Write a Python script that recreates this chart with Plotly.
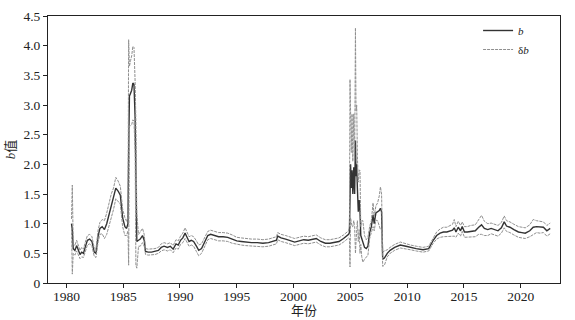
import plotly.graph_objects as go

# time (decimal year), b value, and delta-b half width
years = [
    1980.45, 1980.52, 1980.60, 1980.75, 1980.90, 1981.05, 1981.20, 1981.35, 1981.50, 1981.65,
    1981.85, 1982.05, 1982.25, 1982.45, 1982.60, 1982.80, 1982.95, 1983.15, 1983.35, 1983.55,
    1983.75, 1983.95, 1984.15, 1984.35, 1984.55, 1984.75, 1984.95, 1985.15, 1985.30, 1985.42,
    1985.48, 1985.55, 1985.65, 1985.75, 1985.85, 1985.95, 1986.05, 1986.12, 1986.20, 1986.35,
    1986.50, 1986.70, 1986.85, 1986.97, 1987.20, 1987.50, 1987.80, 1988.10, 1988.35, 1988.60,
    1988.90, 1989.15, 1989.40, 1989.65, 1989.85, 1990.05, 1990.25, 1990.45, 1990.60, 1990.80,
    1991.00, 1991.20, 1991.45, 1991.65, 1991.90, 1992.20, 1992.45, 1992.70, 1993.00, 1993.40,
    1993.80, 1994.20, 1994.60, 1995.00, 1995.40, 1995.80, 1996.30, 1996.80, 1997.30, 1997.80,
    1998.20, 1998.50, 1998.60, 1998.90, 1999.30, 1999.70, 2000.10, 2000.50, 2000.90, 2001.30,
    2001.70, 2002.00, 2002.40, 2002.80, 2003.20, 2003.60, 2004.00, 2004.40, 2004.70, 2004.85,
    2004.92, 2004.97, 2005.02, 2005.08, 2005.15, 2005.22, 2005.30, 2005.38, 2005.45, 2005.50,
    2005.56, 2005.62, 2005.70, 2005.78, 2005.85, 2005.92, 2006.00, 2006.10, 2006.25, 2006.40,
    2006.55, 2006.70, 2006.85, 2007.00, 2007.10, 2007.25, 2007.40, 2007.55, 2007.65, 2007.75,
    2007.85, 2008.00, 2008.25, 2008.50, 2008.90, 2009.40, 2009.90, 2010.30, 2010.80, 2011.40,
    2011.90, 2012.30, 2012.60, 2012.90, 2013.20, 2013.50, 2013.80, 2014.00, 2014.15, 2014.30,
    2014.50, 2014.70, 2014.85, 2015.05, 2015.30, 2015.60, 2016.00, 2016.30, 2016.55, 2016.80,
    2017.10, 2017.40, 2017.70, 2018.00, 2018.30, 2018.55, 2018.75, 2019.05, 2019.40, 2019.80,
    2020.10, 2020.40, 2020.80, 2021.10, 2021.40, 2021.70, 2022.00, 2022.30, 2022.60,
]
b_values = [
    1.00, 0.90, 0.58, 0.55, 0.63, 0.55, 0.48, 0.52, 0.50, 0.60,
    0.72, 0.74, 0.70, 0.52, 0.50, 0.80, 0.92, 0.95, 0.90, 1.00,
    1.15, 1.30, 1.42, 1.60, 1.55, 1.48, 1.10, 0.95, 0.92, 1.00,
    2.20, 3.15, 3.20, 3.25, 3.37, 3.35, 2.80, 1.50, 0.70, 0.72,
    0.74, 0.80, 0.72, 0.53, 0.52, 0.52, 0.53, 0.55, 0.60, 0.62,
    0.60, 0.62, 0.57, 0.66, 0.64, 0.72, 0.76, 0.84, 0.78, 0.70,
    0.72, 0.70, 0.62, 0.55, 0.58, 0.70, 0.80, 0.82, 0.80, 0.78,
    0.78, 0.77, 0.74, 0.71, 0.70, 0.69, 0.68, 0.68, 0.67, 0.68,
    0.70, 0.72, 0.79, 0.76, 0.74, 0.72, 0.69, 0.71, 0.73, 0.72,
    0.74, 0.75, 0.70, 0.67, 0.67, 0.68, 0.70, 0.75, 0.80, 0.82,
    0.85, 1.85, 2.00, 1.60, 1.90, 1.50, 1.95, 1.50, 2.40, 1.80,
    2.00, 1.60, 1.20, 1.40, 1.20, 0.80, 0.75, 0.70, 0.60, 0.58,
    0.62, 0.85, 0.95, 1.15, 1.00, 1.18, 1.20, 1.22, 1.26, 1.20,
    0.40, 0.42, 0.50, 0.55, 0.60, 0.64, 0.62, 0.60, 0.58, 0.56,
    0.58, 0.72, 0.80, 0.84, 0.86, 0.86, 0.88, 0.89, 0.93, 0.86,
    0.94, 0.88, 0.95, 0.86, 0.86, 0.87, 0.88, 0.94, 0.98, 0.92,
    0.90, 0.92, 0.90, 0.88, 0.93, 1.03, 0.96, 0.94, 0.90, 0.86,
    0.85, 0.84, 0.88, 0.94, 0.95, 0.94, 0.94, 0.88, 0.92,
]
delta_b = [
    0.08, 0.75, 0.08, 0.08, 0.09, 0.08, 0.07, 0.08, 0.07, 0.08,
    0.08, 0.08, 0.08, 0.07, 0.07, 0.10, 0.10, 0.12, 0.15, 0.18,
    0.20, 0.20, 0.18, 0.18, 0.17, 0.15, 0.15, 0.15, 0.12, 0.12,
    1.90, 0.50, 0.55, 0.58, 0.62, 0.62, 0.60, 1.20, 0.45, 0.10,
    0.12, 0.12, 0.10, 0.05, 0.05, 0.05, 0.05, 0.05, 0.06, 0.06,
    0.06, 0.06, 0.06, 0.07, 0.07, 0.07, 0.08, 0.09, 0.08, 0.08,
    0.08, 0.08, 0.09, 0.09, 0.08, 0.08, 0.07, 0.07, 0.07, 0.07,
    0.07, 0.07, 0.07, 0.06, 0.06, 0.06, 0.06, 0.06, 0.06, 0.06,
    0.06, 0.06, 0.06, 0.06, 0.06, 0.06, 0.06, 0.06, 0.06, 0.06,
    0.06, 0.06, 0.06, 0.06, 0.06, 0.06, 0.06, 0.06, 0.06, 0.06,
    0.10, 1.58, 0.90, 0.60, 0.95, 0.55, 0.90, 0.55, 1.90, 1.10,
    1.00, 0.55, 0.50, 0.50, 0.70, 0.15, 0.30, 0.35, 0.20, 0.15,
    0.15, 0.10, 0.10, 0.20, 0.12, 0.12, 0.15, 0.25, 0.36, 0.30,
    0.12, 0.12, 0.06, 0.05, 0.05, 0.05, 0.04, 0.04, 0.04, 0.04,
    0.04, 0.05, 0.06, 0.07, 0.08, 0.08, 0.09, 0.10, 0.14, 0.09,
    0.10, 0.09, 0.08, 0.09, 0.09, 0.10, 0.10, 0.12, 0.16, 0.12,
    0.10, 0.09, 0.09, 0.09, 0.09, 0.10, 0.09, 0.09, 0.09, 0.09,
    0.09, 0.09, 0.10, 0.13, 0.10, 0.10, 0.09, 0.09, 0.09,
]

x_ticks = [1980, 1985, 1990, 1995, 2000, 2005, 2010, 2015, 2020]
y_ticks = [0, 0.5, 1.0, 1.5, 2.0, 2.5, 3.0, 3.5, 4.0, 4.5]
y_tick_text = ["0", "0.5", "1.0", "1.5", "2.0", "2.5", "3.0", "3.5", "4.0", "4.5"]

upper = [v + d for v, d in zip(b_values, delta_b)]
lower = [v - d for v, d in zip(b_values, delta_b)]

band_color = "#8f8f8f"
fig = go.Figure()
fig.add_trace(go.Scatter(x=years, y=b_values, mode="lines", name="<i>b</i>",
                         line=dict(color="#333333", width=1.4)))
fig.add_trace(go.Scatter(x=years, y=upper, mode="lines", name="δ<i>b</i>",
                         line=dict(color=band_color, width=1, dash="3px,1px")))
fig.add_trace(go.Scatter(x=years, y=lower, mode="lines", name="δb lower",
                         line=dict(color=band_color, width=1, dash="3px,1px"),
                         showlegend=False))

font_family = "Liberation Serif, Noto Sans CJK SC, serif"
axis_common = dict(showline=True, linecolor="#222222", linewidth=1, mirror=True,
                   ticks="outside", ticklen=4, tickcolor="#222222", showgrid=False,
                   zeroline=False, automargin=False,
                   tickfont=dict(size=13.5, color="#222222", family=font_family))
fig.update_xaxes(range=[1978.38, 2023.46], tickvals=x_ticks, ticklabelstandoff=-3, **axis_common)
fig.update_yaxes(range=[0, 4.5], tickvals=y_ticks, ticktext=y_tick_text, **axis_common,
                 title=dict(text="<i>b</i>值", font=dict(size=13, color="#222222", family=font_family), standoff=4))

fig.add_annotation(text="年份", xref="paper", yref="paper", x=0.5, y=0.0,
                   yshift=-27, xanchor="center", yanchor="middle", showarrow=False,
                   font=dict(size=13, color="#222222", family=font_family))

fig.update_layout(
    width=575, height=320,
    margin=dict(l=48, r=15, t=16, b=37),
    plot_bgcolor="white", paper_bgcolor="white",
    font=dict(family=font_family, color="#222222"),
    legend=dict(x=0.84, y=1.0, xanchor="left", yanchor="top",
                bgcolor="rgba(0,0,0,0)", font=dict(size=11, family=font_family),
                itemwidth=30, tracegroupgap=0),
)
fig.write_html("out.html", config={"displayModeBar": False},
               post_script="document.body.style.margin='0';document.body.style.overflow='hidden';")
